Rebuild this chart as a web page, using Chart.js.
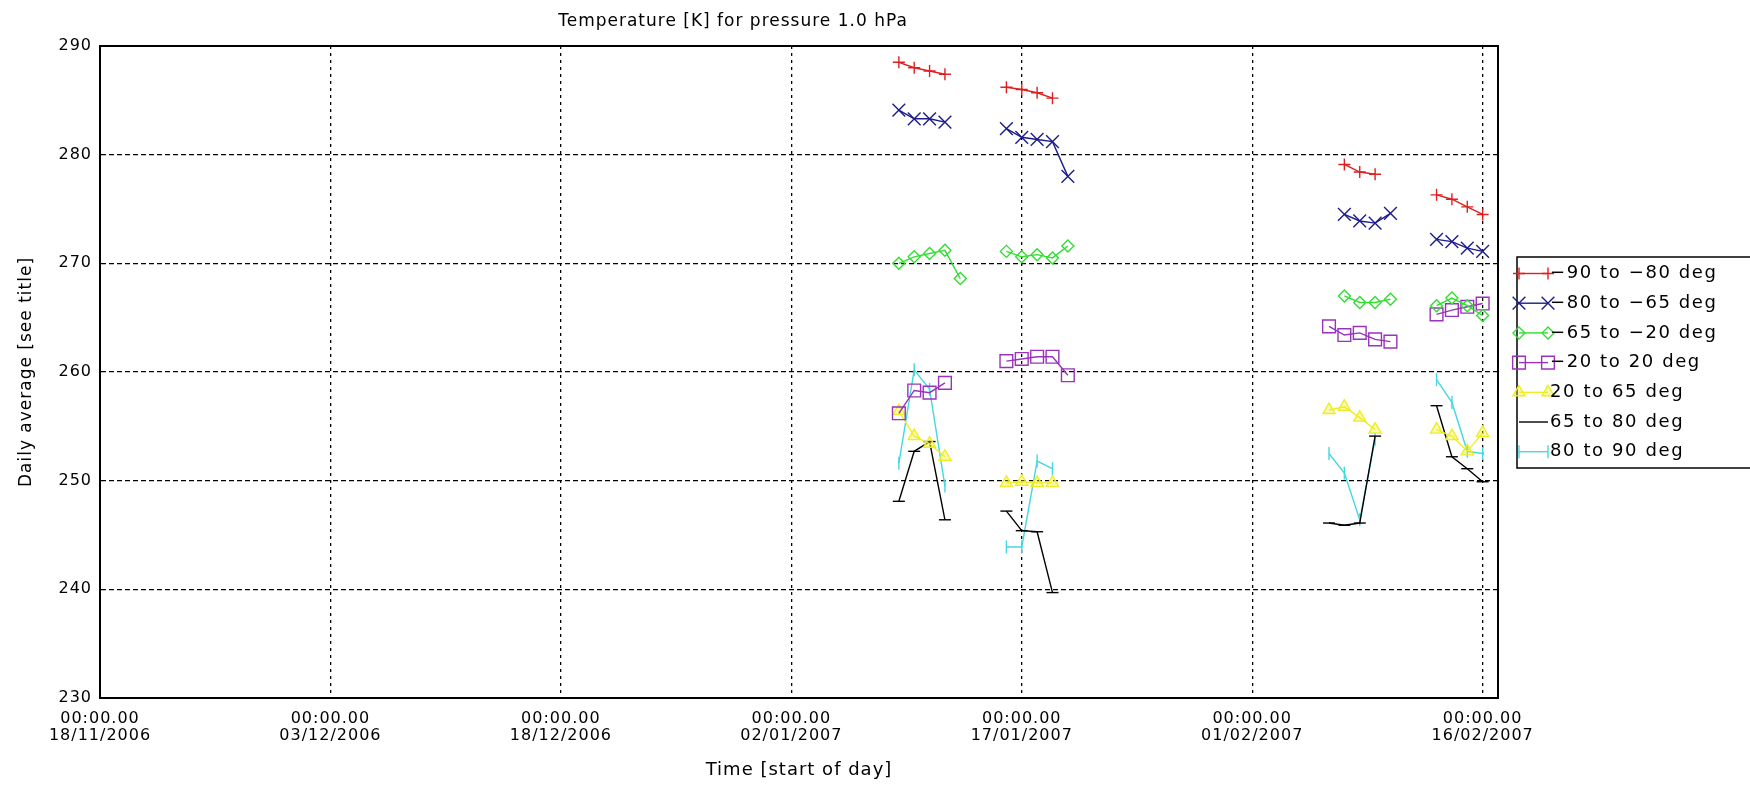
<!DOCTYPE html>
<html>
<head>
<meta charset="utf-8">
<title>Temperature [K] for pressure 1.0 hPa</title>
<script src="https://cdn.jsdelivr.net/npm/chart.js"></script>
<style>
  html, body { margin: 0; padding: 0; background: #fff; }
  canvas { display: block; }
</style>
</head>
<body>
<canvas id="chart1" width="1750" height="785"></canvas>
<script>
// axis labels / ticks
var chartTitle = 'Temperature [K] for pressure 1.0 hPa';
var xTitle = 'Time [start of day]';
var yTitle = 'Daily average [see title]';
var xStart = '18/11/2006';
var xEnd = '17/02/2007';
var xTickDates = ['18/11/2006', '03/12/2006', '18/12/2006', '02/01/2007', '17/01/2007', '01/02/2007', '16/02/2007'];
var xTickTime = '00:00.00';
var yMin = 230, yMax = 290, yStep = 10;

var seriesNames = ['−90 to −80 deg', '−80 to −65 deg', '−65 to −20 deg', '−20 to 20 deg', '20 to 65 deg', '65 to 80 deg', '80 to 90 deg'];

// daily averages, per latitude band
var s1Dates = ['09/01/2007', '10/01/2007', '11/01/2007', '12/01/2007', '16/01/2007', '17/01/2007', '18/01/2007', '19/01/2007',
  '07/02/2007', '08/02/2007', '09/02/2007', '13/02/2007', '14/02/2007', '15/02/2007', '16/02/2007'];
var s1Temp = [288.5, 288.0, 287.7, 287.4, 286.2, 286.0, 285.7, 285.2, 279.1, 278.4, 278.2, 276.3, 275.9, 275.2, 274.5];

var s2Dates = ['09/01/2007', '10/01/2007', '11/01/2007', '12/01/2007', '16/01/2007', '17/01/2007', '18/01/2007', '19/01/2007', '20/01/2007',
  '07/02/2007', '08/02/2007', '09/02/2007', '10/02/2007', '13/02/2007', '14/02/2007', '15/02/2007', '16/02/2007'];
var s2Temp = [284.1, 283.3, 283.3, 283.0, 282.4, 281.6, 281.4, 281.2, 278.0, 274.5, 273.9, 273.7, 274.6, 272.2, 272.0, 271.4, 271.1];

var s3Dates = ['09/01/2007', '10/01/2007', '11/01/2007', '12/01/2007', '13/01/2007', '16/01/2007', '17/01/2007', '18/01/2007', '19/01/2007', '20/01/2007',
  '07/02/2007', '08/02/2007', '09/02/2007', '10/02/2007', '13/02/2007', '14/02/2007', '15/02/2007', '16/02/2007'];
var s3Temp = [270.0, 270.6, 270.9, 271.2, 268.6, 271.1, 270.6, 270.8, 270.5, 271.6, 267.0, 266.4, 266.4, 266.7, 266.1, 266.8, 266.1, 265.2];

var s4Dates = ['09/01/2007', '10/01/2007', '11/01/2007', '12/01/2007', '16/01/2007', '17/01/2007', '18/01/2007', '19/01/2007', '20/01/2007',
  '06/02/2007', '07/02/2007', '08/02/2007', '09/02/2007', '10/02/2007', '13/02/2007', '14/02/2007', '15/02/2007', '16/02/2007'];
var s4Temp = [256.2, 258.3, 258.1, 259.0, 261.0, 261.2, 261.4, 261.4, 259.7, 264.2, 263.4, 263.6, 263.0, 262.8, 265.3, 265.7, 266.0, 266.3];

var s5Dates = ['09/01/2007', '10/01/2007', '11/01/2007', '12/01/2007', '16/01/2007', '17/01/2007', '18/01/2007', '19/01/2007',
  '06/02/2007', '07/02/2007', '08/02/2007', '09/02/2007', '13/02/2007', '14/02/2007', '15/02/2007', '16/02/2007'];
var s5Temp = [256.4, 254.1, 253.4, 252.2, 249.8, 249.9, 249.8, 249.8, 256.5, 256.8, 255.8, 254.7, 254.7, 254.1, 252.7, 254.4];

var s6Dates = s5Dates;
var s6Temp = [248.1, 252.7, 253.6, 246.4, 247.2, 245.4, 245.3, 239.7, 246.1, 245.9, 246.1, 254.1, 256.9, 252.2, 251.1, 249.9];

var s7Dates = s5Dates;
var s7Temp = [251.6, 260.2, 258.4, 249.5, 243.9, 243.9, 251.8, 251.1, 252.5, 250.7, 246.4, 253.8, 259.3, 257.2, 252.7, 252.5];

var FONT = 'DejaVu Sans';

function dayIndex(s) {
  var p = s.split('/');
  var q = xStart.split('/');
  return (Date.UTC(+p[2], +p[1] - 1, +p[0]) - Date.UTC(+q[2], +q[1] - 1, +q[0])) / 86400000;
}

// one point per day, a null between runs so the line breaks
function toPoints(dates, vals) {
  var pts = [];
  var prev = null;
  for (var i = 0; i < dates.length; i++) {
    var d = dayIndex(dates[i]);
    if (prev !== null && d - prev > 1) pts.push({x: (d + prev) / 2, y: null});
    pts.push({x: d, y: vals[i]});
    prev = d;
  }
  return pts;
}

function makeSet(i, dates, vals, color, style, radius, rotation, fill) {
  return {
    label: seriesNames[i],
    data: toPoints(dates, vals),
    borderColor: color,
    backgroundColor: fill || 'rgba(0,0,0,0)',
    pointBackgroundColor: fill || 'rgba(0,0,0,0)',
    pointBorderColor: color,
    borderWidth: 1.4,
    pointBorderWidth: 1.4,
    pointStyle: style,
    pointRadius: radius,
    pointRotation: rotation || 0,
    spanGaps: false,
    tension: 0
  };
}

var tickDays = xTickDates.map(dayIndex);

var spacing = {
  id: 'spacing',
  beforeUpdate: function (chart) { chart.ctx.letterSpacing = '1px'; }
};

var decor = {
  id: 'decor',
  afterDraw: function (chart) {
    var ctx = chart.ctx;
    var a = chart.chartArea;
    ctx.save();
    // plot frame
    ctx.setLineDash([]);
    ctx.strokeStyle = '#000';
    ctx.lineWidth = 2;
    ctx.strokeRect(a.left, a.top, a.right - a.left, a.bottom - a.top);

    // title
    ctx.letterSpacing = '1px';
    ctx.fillStyle = '#000';
    ctx.font = '17px "' + FONT + '"';
    ctx.textAlign = 'center';
    ctx.textBaseline = 'middle';
    ctx.fillText(chartTitle, (a.left + a.right) / 2 - 66, 22);

    // legend
    var left = a.right + 19, top = 257, rowH = 29.7;
    ctx.lineWidth = 1.5;
    ctx.strokeRect(left, top, 300, 211);
    ctx.letterSpacing = '1.6px';
    ctx.font = '18px "' + FONT + '"';
    ctx.textAlign = 'left';
    chart.data.datasets.forEach(function (ds, i) {
      var y = top + 16.5 + i * rowH;
      var x1 = left + 2, x2 = left + 31;
      ctx.strokeStyle = ds.borderColor;
      ctx.lineWidth = ds.borderWidth;
      ctx.beginPath();
      ctx.moveTo(x1, y);
      ctx.lineTo(x2, y);
      ctx.stroke();
      if (Chart.helpers && Chart.helpers.drawPoint && i !== 5) {
        var opts = {pointStyle: ds.pointStyle, rotation: ds.pointRotation, radius: ds.pointRadius, borderWidth: ds.pointBorderWidth};
        ctx.fillStyle = ds.pointBackgroundColor;
        Chart.helpers.drawPoint(ctx, opts, x1, y);
        Chart.helpers.drawPoint(ctx, opts, x2, y);
      }
      ctx.fillStyle = '#000';
      ctx.fillText(ds.label, left + 33, y);
    });
    ctx.restore();
  }
};

var ch1 = document.getElementById('chart1').getContext('2d');
var chart1 = new Chart(ch1, {
  type: 'line',
  data: {
    datasets: [
      makeSet(0, s1Dates, s1Temp, '#dd2020', 'cross', 6),
      makeSet(1, s2Dates, s2Temp, '#1c1c8c', 'crossRot', 9),
      makeSet(2, s3Dates, s3Temp, '#33dd33', 'rectRot', 6),
      makeSet(3, s4Dates, s4Temp, '#9933bb', 'rect', 9),
      makeSet(4, s5Dates, s5Temp, '#eeee22', 'triangle', 7, 0, 'rgba(238,238,34,0.35)'),
      makeSet(5, s6Dates, s6Temp, '#000000', 'line', 6),
      makeSet(6, s7Dates, s7Temp, '#44d8e0', 'line', 6.5, 90)
    ]
  },
  options: {
    responsive: false,
    animation: false,
    devicePixelRatio: 1,
    layout: { padding: { top: 46, right: 252, left: 0, bottom: 0 } },
    plugins: {
      legend: { display: false },
      title: { display: false },
      tooltip: { enabled: false }
    },
    scales: {
      x: {
        type: 'linear',
        min: 0,
        max: dayIndex(xEnd),
        afterBuildTicks: function (s) { s.ticks = tickDays.map(function (v) { return {value: v}; }); },
        afterFit: function (s) { s.height = 87; },
        ticks: {
          autoSkip: false,
          maxRotation: 0,
          padding: 12,
          color: '#000',
          font: { family: FONT, size: 16, lineHeight: 1.08 },
          callback: function (v) {
            var k = tickDays.indexOf(v);
            return [xTickTime, xTickDates[k]];
          }
        },
        grid: { color: '#000', lineWidth: 1.3, drawTicks: false },
        border: { display: true, color: '#000', width: 2, dash: [3, 4] },
        title: { display: true, text: xTitle, color: '#000', font: { family: FONT, size: 18 }, padding: { top: 0, bottom: 4 } }
      },
      y: {
        min: yMin,
        max: yMax,
        afterFit: function (s) { s.width = 100; },
        ticks: { stepSize: yStep, padding: 8, color: '#000', font: { family: FONT, size: 16 } },
        grid: { color: '#000', lineWidth: 1.3, drawTicks: false },
        border: { display: true, color: '#000', width: 2, dash: [5, 3] },
        title: { display: true, text: yTitle, color: '#000', font: { family: FONT, size: 17 }, padding: { top: 16, bottom: 0 } }
      }
    }
  },
  plugins: [spacing, decor]
});
</script>
</body>
</html>
